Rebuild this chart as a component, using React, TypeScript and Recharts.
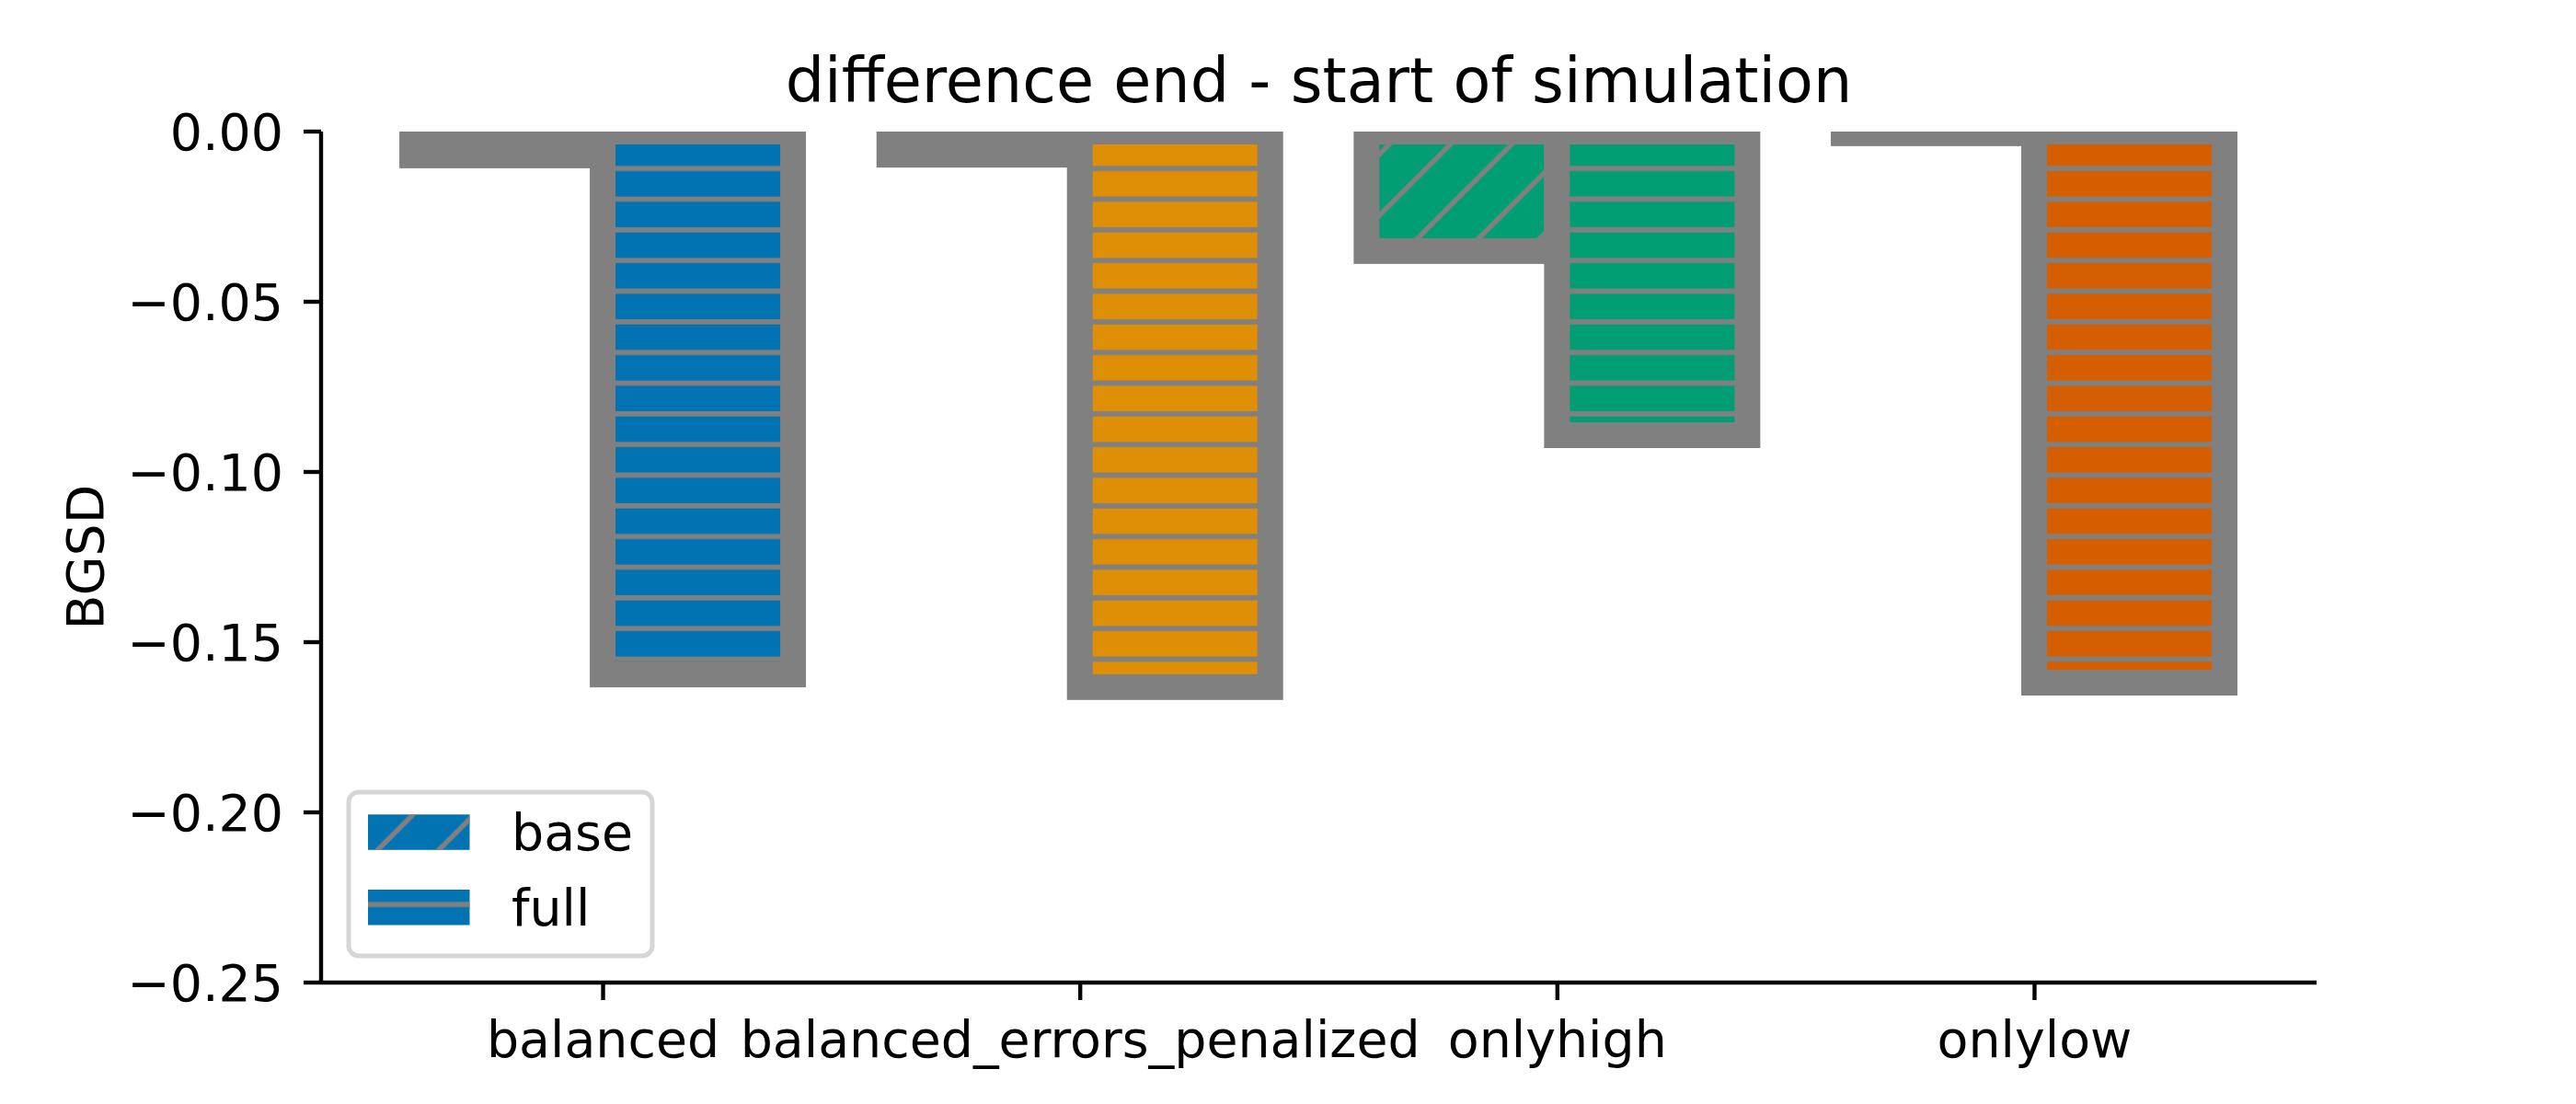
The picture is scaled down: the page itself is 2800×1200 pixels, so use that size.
import React from 'react';
import { BarChart, Bar, XAxis, YAxis, Legend } from 'recharts';

// ---------- data ----------
const categories = ['balanced', 'balanced_errors_penalized', 'onlyhigh', 'onlylow'];
const baseValues = [-0.007, -0.0068, -0.0351, -0.0005];
const fullValues = [-0.1595, -0.1632, -0.0892, -0.1619];
const barColors = ['#0173b2', '#de8f05', '#029e73', '#d55e00'];
const yTicks = [0, -0.05, -0.1, -0.15, -0.2, -0.25];
const seriesNames = ['base', 'full'];
const titleText = 'difference end - start of simulation';
const yLabelText = 'BGSD';

const data = categories.map((name, i) => ({ name, base: baseValues[i], full: fullValues[i] }));

// ---------- style / layout ----------
const FONT = 'DejaVu Sans';
const EDGE = '#808080';
const EDGE_W = 28;
const W = 2800;
const H = 1200;
const PLOT = { left: 349, top: 143, right: 2518, bottom: 1068 };
const LEG = { left: 376, top: 858, w: 336, h: 184 };
const TICK_FS = 55.4;
const TITLE_FS = 66.8;

const fmt = (v: number) => (Math.abs(v) < 1e-9 ? '0.00' : (v < 0 ? '\u2212' : '') + Math.abs(v).toFixed(2));

const HATCH_H = 33.333;
const HATCH_D = 66.5;

const Patterns = ({ prefix, ox, oy }: { prefix: string; ox: number; oy: number }) => (
  <>
    <pattern id={prefix + 'H'} patternUnits="userSpaceOnUse" x={ox} y={oy} width={20} height={HATCH_H}>
      <rect x={0} y={13.6} width={20} height={5.7} fill={EDGE} />
    </pattern>
    <pattern id={prefix + 'D'} patternUnits="userSpaceOnUse" x={ox} y={oy} width={HATCH_D} height={HATCH_D}>
      {[-1, 0, 1, 2].map((k) => {
        const s = 4.4 + k * HATCH_D;
        return (
          <line key={k} x1={s + 10} y1={-10} x2={s - HATCH_D - 10} y2={HATCH_D + 10} stroke={EDGE} strokeWidth={5.4} />
        );
      })}
    </pattern>
  </>
);

const makeShape = (patternId: string) => (props: any) => {
  const { x, y, width, height, payload, index } = props;
  const top = Math.min(y, y + height);
  const h = Math.abs(height);
  let ci = payload ? categories.indexOf(payload.name) : -1;
  if (ci < 0) ci = index ?? 0;
  const color = barColors[ci];
  return (
    <g clipPath="url(#plotClip)">
      <rect x={x} y={top} width={width} height={h} fill={color} />
      <rect x={x} y={top} width={width} height={h} fill={`url(#${patternId})`} />
      <rect x={x} y={top} width={width} height={h} fill="none" stroke={EDGE} strokeWidth={EDGE_W} />
    </g>
  );
};

const LegendContent = () => {
  const patchIds = ['lgD', 'lgH'];
  return (
    <svg width={LEG.w} height={LEG.h} style={{ display: 'block', overflow: 'visible' }}>
      <defs>
        <Patterns prefix="lg" ox={-LEG.left} oy={-LEG.top} />
      </defs>
      <rect x={3} y={3} width={LEG.w - 6} height={LEG.h - 6} rx={11} ry={11} fill="#ffffff" stroke="#d6d6d6" strokeWidth={5} />
      {seriesNames.map((n, i) => {
        const py = i === 0 ? 27.3 : 109;
        return (
          <g key={n}>
            <rect x={24} y={py} width={110.5} height={38.5} fill={barColors[0]} />
            <rect x={24} y={py} width={110.5} height={38.5} fill={`url(#${patchIds[i]})`} />
            <text x={180} y={py + 38.5} fontSize={TICK_FS} fontFamily={FONT} fill="#000">
              {n}
            </text>
          </g>
        );
      })}
    </svg>
  );
};

export default function App() {
  return (
    <div style={{ position: 'absolute', left: 0, top: 0, width: W, height: H, background: '#fff', fontFamily: FONT }}>
      <BarChart
        width={W}
        height={H}
        data={data}
        margin={{ top: PLOT.top, right: W - PLOT.right, bottom: 0, left: 0 }}
        barCategoryGap="10%"
        barGap={0}
        style={{ fontFamily: FONT }}
      >
        <defs>
          <clipPath id="plotClip">
            <rect x={PLOT.left} y={PLOT.top} width={PLOT.right - PLOT.left} height={PLOT.bottom - PLOT.top} />
          </clipPath>
          <Patterns prefix="mn" ox={0} oy={0} />
        </defs>
        <text
          x={(PLOT.left + PLOT.right) / 2}
          y={110.7}
          textAnchor="middle"
          fontSize={TITLE_FS}
          fontFamily={FONT}
          fill="#000"
        >
          {titleText}
        </text>
        <text
          x={111.7}
          y={(PLOT.top + PLOT.bottom) / 2}
          textAnchor="middle"
          fontSize={TICK_FS}
          fontFamily={FONT}
          fill="#000"
          transform={`rotate(-90, 111.7, ${(PLOT.top + PLOT.bottom) / 2})`}
        >
          {yLabelText}
        </text>
        <XAxis
          dataKey="name"
          type="category"
          height={H - PLOT.bottom}
          padding={{ left: 47.2, right: 47.2 }}
          interval={0}
          tickSize={19}
          tickMargin={23}
          tick={{ fontSize: TICK_FS, fill: '#000', fontFamily: FONT }}
          axisLine={{ stroke: '#000', strokeWidth: 4.4 }}
          tickLine={{ stroke: '#000', strokeWidth: 4.4 }}
        />
        <YAxis
          type="number"
          domain={[-0.25, 0]}
          ticks={yTicks}
          interval={0}
          allowDataOverflow
          width={PLOT.left}
          tickSize={19}
          tickMargin={22}
          tickFormatter={fmt}
          tick={{ fontSize: TICK_FS, fill: '#000', fontFamily: FONT }}
          axisLine={{ stroke: '#000', strokeWidth: 4.4 }}
          tickLine={{ stroke: '#000', strokeWidth: 4.4 }}
        />
        <Bar dataKey="base" name={seriesNames[0]} shape={makeShape('mnD')} isAnimationActive={false} />
        <Bar dataKey="full" name={seriesNames[1]} shape={makeShape('mnH')} isAnimationActive={false} />
        <Legend
          layout="horizontal"
          verticalAlign="middle"
          align="center"
          content={LegendContent}
          wrapperStyle={{ position: 'absolute', left: LEG.left, top: LEG.top, width: LEG.w, height: LEG.h }}
        />
      </BarChart>
    </div>
  );
}
